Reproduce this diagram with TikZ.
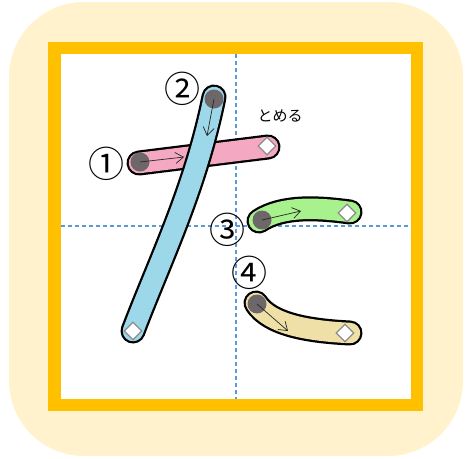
\documentclass[tikz,border=0pt]{standalone}
\usepackage{fontspec}
\newfontfamily\jpfont{Noto Sans CJK JP}
\usetikzlibrary{arrows.meta,shapes.geometric}
\definecolor{cream}{HTML}{FFF2CC}
\definecolor{frameyellow}{HTML}{FFC000}
\definecolor{guideblue}{HTML}{5B9BD5}
\definecolor{spink}{HTML}{F5A8C2}
\definecolor{sblue}{HTML}{9DD7EA}
\definecolor{sgreen}{HTML}{A8F28E}
\definecolor{stan}{HTML}{EFE0A8}
\definecolor{dotgray}{HTML}{6E676A}
\tikzset{
  outer/.style={line width=25pt, line cap=round, draw=black},
  inner/.style={line width=20.5pt, line cap=round},
  startdot/.style={circle, fill=dotgray, minimum size=19pt, inner sep=0pt},
  enddia/.style={diamond, draw=black!45, fill=white, line width=1.2pt, minimum size=18pt, inner sep=0pt},
  dirarrow/.style={line width=0.7pt, draw=black!85, -{Straight Barb[length=8pt,width=11pt,line width=0.7pt]}},
  guide/.style={draw=guideblue, line width=1.3pt, dash pattern=on 4pt off 3pt},
  num/.style={font=\jpfont\fontsize{36}{36}\selectfont, inner sep=0pt},
}
\begin{document}
\begin{tikzpicture}[x=1pt,y=-1pt]
\useasboundingbox (0,0) rectangle (465,458);
% background
\fill[cream] (9,2) [rounded corners=75pt] rectangle (463,456);
\fill[frameyellow] (48,42) rectangle (423,411);
\fill[white] (61,54) rectangle (411,399);
% guides
\coordinate (gt) at (236,54); \coordinate (gb) at (236,399);
\coordinate (gl) at (61,226); \coordinate (gr) at (411,226);
\draw[guide] (gt) -- (gb);
\draw[guide] (gl) -- (gr);
% stroke 1
\coordinate (a1) at (139,163); \coordinate (b1) at (268,147);
\draw[outer] (a1) -- (b1);
\draw[inner, draw=spink] (a1) -- (b1);
\node[startdot] (d1) at (140,162) {};
\coordinate (h1) at (184,157);
\draw[dirarrow] (d1.center) -- (h1);
\node[enddia] (e1) at (267,146) {};
% stroke 2
\coordinate (a2) at (214,97); \coordinate (b2) at (133,331);
\draw[outer] (a2) .. controls (195,190) and (160,260) .. (b2);
\draw[inner, draw=sblue] (a2) .. controls (195,190) and (160,260) .. (b2);
\node[startdot] (d2) at (214,99) {};
\coordinate (h2) at (207,136);
\draw[dirarrow] (d2.center) -- (h2);
\node[enddia] (e2) at (133,331) {};
% stroke 3
\coordinate (a3) at (259,221); \coordinate (b3) at (350,212);
\draw[outer] (a3) .. controls (283,205) and (320,208) .. (b3);
\draw[inner, draw=sgreen] (a3) .. controls (283,205) and (320,208) .. (b3);
\node[startdot] (d3) at (262,220) {};
\coordinate (h3) at (301,211);
\draw[dirarrow] (d3.center) -- (h3);
\node[enddia] (e3) at (347,213) {};
% stroke 4
\coordinate (a4) at (256,303); \coordinate (b4) at (350,333);
\draw[outer] (a4) .. controls (270,325) and (310,331) .. (b4);
\draw[inner, draw=stan] (a4) .. controls (270,325) and (310,331) .. (b4);
\node[startdot] (d4) at (257,304) {};
\coordinate (h4) at (288,331);
\draw[dirarrow] (d4.center) -- (h4);
\node[enddia] (e4) at (345,333) {};
% labels
\node[num] (n1) at (106,164) {①};
\node[num] (n2) at (182,89) {②};
\node[num] (n3) at (227,230) {③};
\node[num] (n4) at (249,273) {④};
\node[font=\jpfont\fontsize{15}{15}\selectfont, inner sep=0pt] (tm) at (280,116) {とめる};
\end{tikzpicture}
\end{document}
